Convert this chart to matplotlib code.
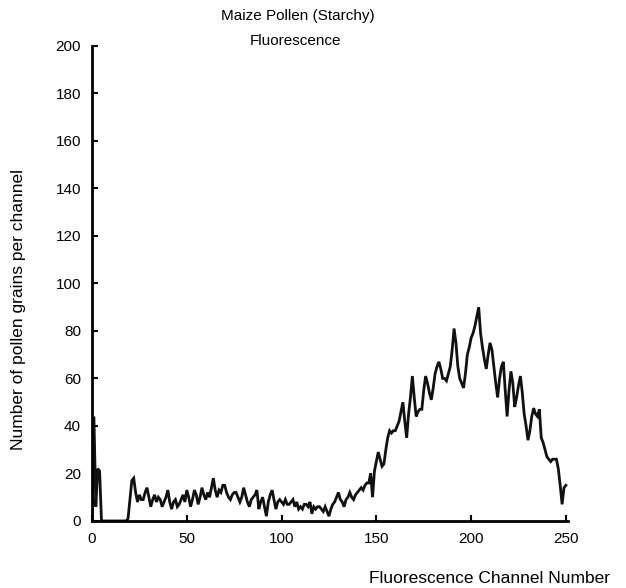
import numpy as np
import matplotlib
matplotlib.use('Agg')
from matplotlib import pyplot as plt

# counts per fluorescence channel (channels 0..250)
counts = [
    0, 44, 6, 22, 21, 0, 0, 0, 0, 0,
    0, 0, 0, 0, 0, 0, 0, 0, 0, 1,
    9, 17, 18, 12, 8, 11, 9, 9, 12, 14,
    10, 6, 9, 11, 8, 10, 9, 6, 8, 10,
    13, 8, 5, 8, 9, 6, 7, 9, 11, 8,
    13, 10, 6, 9, 13, 11, 7, 10, 14, 11,
    9, 12, 10, 14, 18, 13, 10, 13, 12, 15,
    15, 12, 10, 9, 11, 12, 12, 10, 8, 10,
    14, 11, 8, 6, 9, 10, 11, 13, 5, 8,
    10, 6, 2, 8, 11, 13, 9, 5, 8, 9,
    8, 7, 9, 7, 7, 8, 9, 6, 8, 5,
    6, 5, 7, 7, 6, 8, 3, 6, 5, 6,
    6, 5, 4, 6, 4, 2, 5, 7, 8, 10,
    12, 9, 8, 6, 9, 10, 12, 10, 9, 11,
    12, 13, 14, 13, 15, 16, 16, 20, 10, 21,
    25, 29, 26, 23, 24, 30, 35, 38, 37, 38,
    38, 40, 42, 46, 50, 42, 35, 45, 52, 61,
    52, 44, 46, 47, 47, 55, 61, 58, 54, 51,
    56, 62, 65, 67, 64, 60, 60, 59, 62, 65,
    72, 81, 75, 65, 60, 58, 56, 62, 70, 73,
    77, 79, 82, 86, 90, 79, 73, 68, 64, 70,
    75, 72, 65, 58, 52, 60, 65, 67, 55, 44,
    55, 63, 58, 48, 52, 57, 61, 54, 45, 40,
    34, 38, 44, 47.5, 45, 44, 47, 35, 33, 30,
    27, 26, 25, 26, 26, 26, 22, 15, 7, 14,
    15,
]
channels = np.arange(len(counts))

x_ticks = [0, 50, 100, 150, 200, 250]
y_ticks = [0, 20, 40, 60, 80, 100, 120, 140, 160, 180, 200]

plt.rcParams['font.family'] = ['Liberation Sans', 'DejaVu Sans']

fig = plt.figure(figsize=(6.26, 5.88), dpi=100)
ax = fig.add_axes((0.147, 0.114, 0.76, 0.808))

ax.plot(channels, counts, color='#111111', lw=2.0, solid_joinstyle='miter')

ax.set_xlim(0, 251)
ax.set_ylim(0, 200)
ax.set_xticks(x_ticks)
ax.set_yticks(y_ticks)
ax.tick_params(direction='in', length=4, width=1.5, labelsize=11, pad=8)
for side in ('top', 'right'):
    ax.spines[side].set_visible(False)
for side in ('left', 'bottom'):
    ax.spines[side].set_linewidth(2)

fig.text(0.475, 0.973, 'Maize Pollen (Starchy)', ha='center', va='center', fontsize=11)
fig.text(0.472, 0.930, 'Fluorescence', ha='center', va='center', fontsize=11)
fig.text(0.975, 0.017, 'Fluorescence Channel Number', ha='right', va='center', fontsize=12.5)
fig.text(0.03, 0.473, 'Number of pollen grains per channel', rotation=90,
         ha='center', va='center', fontsize=12.5)

fig.savefig('out.png', dpi=100, facecolor='white')
